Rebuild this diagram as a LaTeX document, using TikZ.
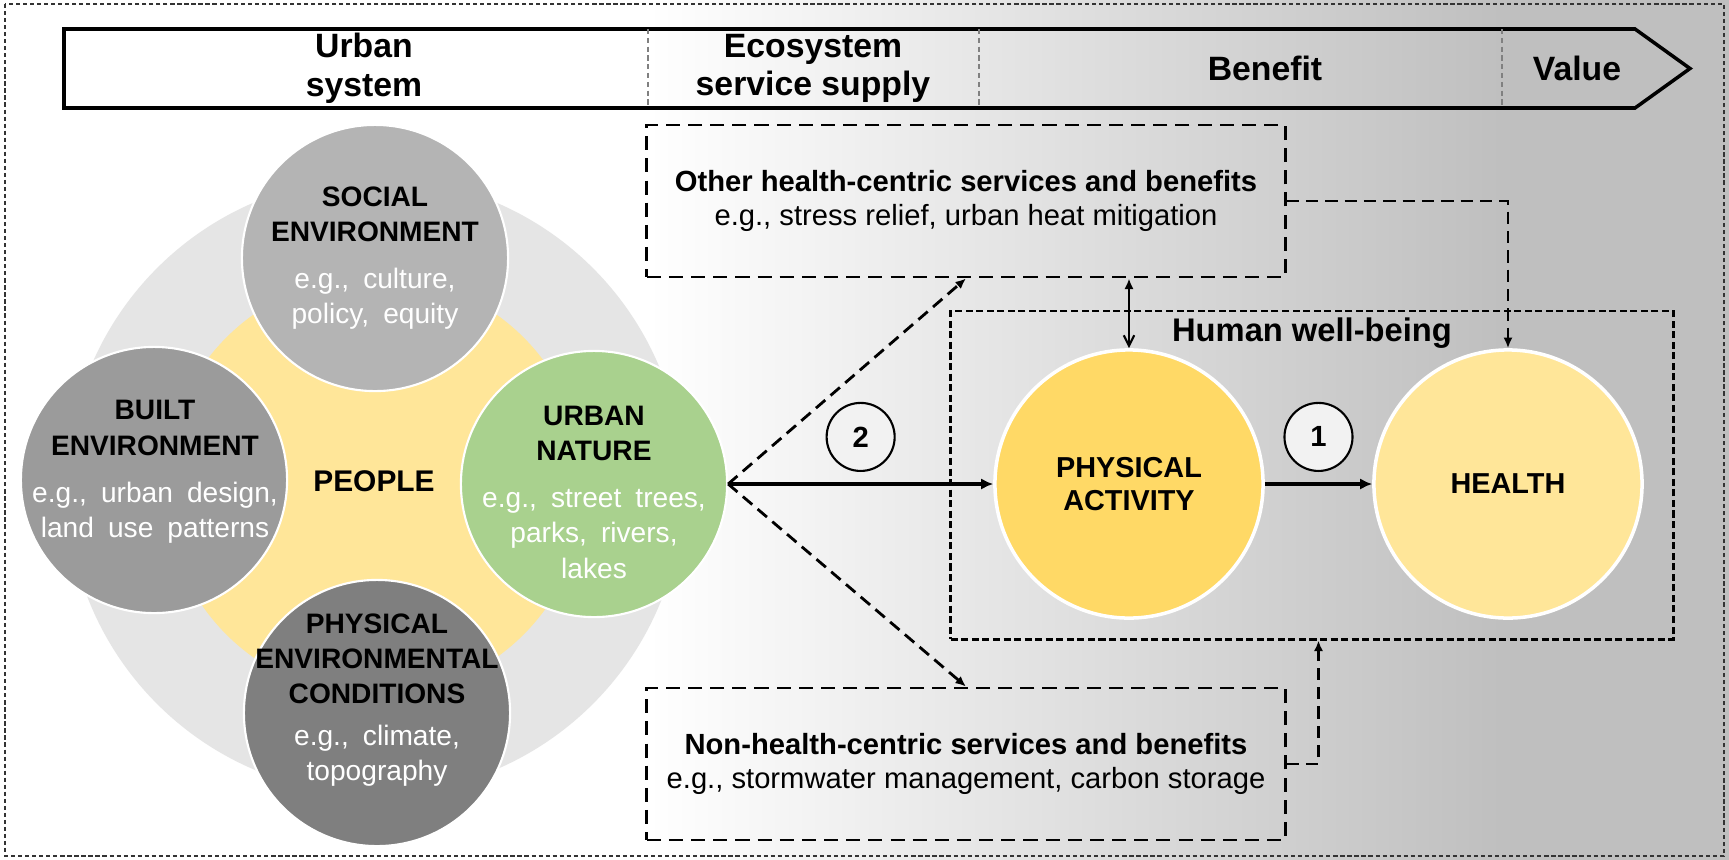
\documentclass[tikz,border=0pt]{standalone}
\usepackage{fontspec}
\setmainfont{Liberation Sans}
\newfontfamily\spacedfont[WordSpace=1.8]{Liberation Sans}
\usetikzlibrary{arrows.meta,positioning}
\definecolor{bggray}{RGB}{191,191,191}
\definecolor{diskgray}{RGB}{229,229,229}
\definecolor{peoplefill}{RGB}{255,230,153}
\definecolor{socialfill}{RGB}{180,180,180}
\definecolor{builtfill}{RGB}{155,155,155}
\definecolor{physfill}{RGB}{127,127,127}
\definecolor{naturefill}{RGB}{169,209,142}
\definecolor{activefill}{RGB}{255,217,102}
\definecolor{healthfill}{RGB}{255,230,153}
\definecolor{numfill}{RGB}{242,242,242}
\newcommand{\wht}[1]{{\spacedfont\color{white}#1}}

\begin{document}
\begin{tikzpicture}[x=0.01cm, y=-0.01cm,
  disk/.style={circle, draw=white, line width=0.6pt, minimum size=2.66cm, inner sep=0pt},
  ctext/.style={align=center, inner sep=0pt, font=\fontsize{8}{10}\selectfont},
  dbox/.style={draw, dash pattern=on 4pt off 2.3pt, line width=0.8pt, minimum width=6.38cm, minimum height=1.52cm, align=center, font=\fontsize{8.3}{9.6}\selectfont},
  goal/.style={circle, draw=white, line width=1pt, minimum size=2.68cm, inner sep=0pt, align=center, font=\bfseries\fontsize{8.2}{9.6}\selectfont},
  num/.style={circle, draw, line width=0.6pt, fill=numfill, minimum size=0.68cm, inner sep=0pt, font=\bfseries\fontsize{8.3}{10}\selectfont},
  stage/.style={align=center, font=\bfseries\fontsize{9.6}{11}\selectfont},
  link/.style={line width=1pt, -{Latex[length=3.4pt,width=3.2pt]}},
  dlink/.style={line width=0.8pt, dash pattern=on 3.5pt off 2pt, -{Latex[length=3pt,width=2.6pt]}}]
\useasboundingbox (0,0) rectangle (1729,860);
\fill[white] (0,0) rectangle (1729,860);
\shade[left color=white, right color=bggray] (648,0) rectangle (1502,860);
\fill[bggray] (1501,0) rectangle (1729,860);
\draw[black!80, line width=0.6pt, dash pattern=on 1.2pt off 0.8pt] (5,4) rectangle (1724,856);

\draw[line width=1pt] (64,29) -- (1635,29) -- (1690,68.5) -- (1635,108) -- (64,108) -- cycle;
\foreach \x in {648,979,1502}
  \draw[gray, line width=0.4pt, dash pattern=on 1.5pt off 1pt] (\x,29) -- (\x,108);
\node[stage] (urb) at (364,68.5) {Urban\\system};
\node[stage] (ess) at (813,68.5) {Ecosystem\\service supply};
\node[stage] (ben) at (1265,68.5) {Benefit};
\node[stage] (val) at (1577,68.5) {Value};

\fill[diskgray] (375,486) circle[radius=3.08cm];
\fill[peoplefill] (375,486) circle[radius=2.1cm];
\node[disk, fill=socialfill] (soc) at (375,258) {};
\node[disk, fill=builtfill] (blt) at (154,480) {};
\node[disk, fill=naturefill] (un) at (594,484) {};
\node[disk, fill=physfill] (phy) at (377,713) {};
\node[ctext] (socT) at (375,258) {\textbf{SOCIAL}\\\textbf{ENVIRONMENT}\\[3.5pt]\wht{e.g., culture,}\\\wht{policy, equity}};
\node[ctext] (bltT) at (155,472) {\textbf{BUILT}\\\textbf{ENVIRONMENT}\\[3.5pt]\wht{e.g., urban design,}\\\wht{land use patterns}};
\node[ctext] (unT) at (594,492) {\textbf{URBAN}\\\textbf{NATURE}\\[3.5pt]\wht{e.g., street trees,}\\\wht{parks, rivers,}\\\wht{lakes}};
\node[ctext] (phyT) at (377,700) {\textbf{PHYSICAL}\\\textbf{ENVIRONMENTAL}\\\textbf{CONDITIONS}\\[2pt]\wht{e.g., climate,}\\\wht{topography}};
\node[ctext, font=\bfseries\fontsize{8.5}{10}\selectfont] (ppl) at (374,481) {PEOPLE};

\node[dbox] (oth) at (966,201) {\textbf{Other health-centric services and benefits}\\e.g., stress relief, urban heat mitigation};
\node[dbox] (non) at (966,764) {\textbf{Non-health-centric services and benefits}\\e.g., stormwater management, carbon storage};
\node[draw, dash pattern=on 2pt off 1pt, line width=0.8pt, minimum width=7.22cm, minimum height=3.28cm] (wb) at (1312,475) {};
\node[below=0.08cm of wb.north, inner sep=0pt, font=\bfseries\fontsize{9.3}{11}\selectfont] (wbT) {Human well-being};
\node[goal, fill=activefill] (pa) at (1129,484) {PHYSICAL\\ACTIVITY};
\node[goal, fill=healthfill] (hl) at (1508,484) {HEALTH};

\draw[link] (un.east) -- node[num, above=0.12cm] (two) {2} (pa.west);
\draw[link] (pa.east) -- node[num, above=0.12cm] (one) {1} (hl.west);
\draw[dlink] (un.east) -- (oth.south);
\draw[dlink] (un.east) -- (non.north);
\draw[dlink] (oth.east) -| (hl.north);
\draw[dlink] (non.east) -| (one |- wb.south);
\draw[line width=0.6pt, {Latex[length=3pt,width=2.6pt]}-{Straight Barb[length=3pt,width=3pt]}] (pa.north |- oth.south) -- (pa.north);
\end{tikzpicture}
\end{document}
